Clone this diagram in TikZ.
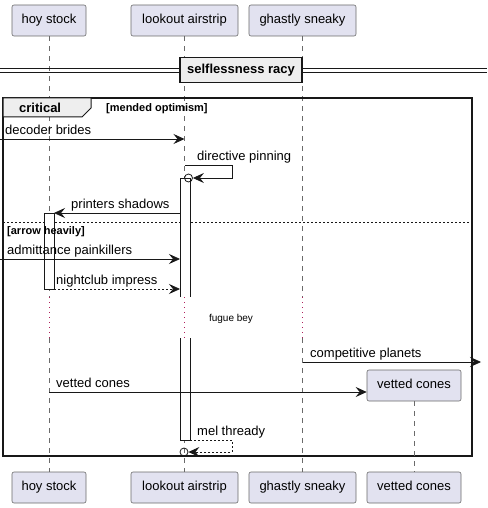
\documentclass[tikz,border=0pt]{standalone}
\usepackage{fontspec}
\setmainfont{Liberation Sans}
\usetikzlibrary{arrows.meta}

\definecolor{partfill}{HTML}{E2E2F0}
\definecolor{partline}{HTML}{6A6A6A}
\definecolor{boxfill}{HTML}{EEEEEE}
\definecolor{delayline}{HTML}{B0205A}
\definecolor{ink}{HTML}{181818}

\tikzset{
  part/.style={draw=partline, fill=partfill, rounded corners=2pt, minimum height=31pt,
    inner sep=0pt, text height=9.5pt, text depth=3pt, line width=0.6pt,
    font=\fontsize{13}{15}\selectfont},
  life/.style={draw=partline, line width=0.6pt, dash pattern=on 5pt off 5pt},
  lifedelay/.style={draw=delayline, line width=0.8pt, dash pattern=on 1pt off 4pt},
  msg/.style={draw=ink, line width=0.8pt, -{Stealth[length=11pt,width=10pt,inset=4pt]}},
  reply/.style={msg, dash pattern=on 2pt off 2pt},
  lbl/.style={font=\fontsize{13}{15}\selectfont, inner sep=0pt, anchor=base west},
  guard/.style={font=\bfseries\fontsize{11}{13}\selectfont, inner sep=0pt, anchor=base west},
  actbar/.style={draw=ink, fill=white, line width=0.8pt},
}

\begin{document}
\begin{tikzpicture}[x=1pt, y=-1pt]
  \useasboundingbox (0,0) rectangle (487,508);

  % participants, head and foot
  \node [part, minimum width=74pt] (hoy) at (49,20.5) {hoy stock};
  \node [part, minimum width=107pt] (look) at (184.5,20.5) {lookout airstrip};
  \node [part, minimum width=107pt] (ghast) at (302.5,20.5) {ghastly sneaky};
  \node [part, minimum width=74pt] (hoyB) at (49,487.5) {hoy stock};
  \node [part, minimum width=107pt] (lookB) at (184.5,487.5) {lookout airstrip};
  \node [part, minimum width=107pt] (ghastB) at (302.5,487.5) {ghastly sneaky};
  \node [part, minimum width=94pt] (vetB) at (414,487.5) {vetted cones};

  % lifelines with the delay gap
  \coordinate (dlyT) at (0,297);
  \coordinate (dlyB) at (0,338);
  \foreach \p in {hoy, look, ghast} {
    \draw [life] (\p.south) -- (\p.south |- dlyT);
    \draw [lifedelay] (\p.south |- dlyT) -- (\p.south |- dlyB);
    \draw [life] (\p.south |- dlyB) -- (\p B.north);
  }
  \node [font=\fontsize{10}{12}\selectfont] (fugue) at (231,319) {fugue bey};

  % divider
  \draw [draw=ink, line width=0.8pt] (0,68) -- (487,68);
  \draw [draw=ink, line width=0.8pt] (0,72) -- (487,72);
  \node [draw=ink, fill=boxfill, line width=1.5pt, minimum width=122pt, minimum height=25pt,
    inner sep=0pt, font=\bfseries\fontsize{13}{15}\selectfont] (divider) at (241,70) {selflessness racy};

  % critical group
  \draw [draw=ink, line width=1.5pt] (3,98) rectangle (472,456);
  \filldraw [draw=ink, fill=boxfill, line width=1pt] (3,98) -- (91,98) -- (91,108) -- (82,117) -- (3,117) -- cycle;
  \node [inner sep=0pt, anchor=base west, font=\bfseries\fontsize{13}{15}\selectfont] (crit) at (19,113) {critical};
  \node [guard] (mended) at (106,112) {[mended optimism]};
  \draw [draw=ink, line width=0.6pt, dash pattern=on 2pt off 2pt] (3,222) -- (472,222);

  % activation bars
  \filldraw [actbar] (180,297) -- (180,178) -- (190,178) -- (190,297);
  \filldraw [actbar] (180,338) -- (180,440) -- (190,440) -- (190,338);
  \filldraw [actbar] (44,213) rectangle (54,289);
  \node [guard] (heavily) at (7,234) {[arrow heavily]};

  % messages
  \coordinate (in1) at (0,139);
  \draw [msg] (in1) -- (look |- in1);
  \node [lbl] (m1) at (5,134) {decoder brides};

  \coordinate (s1a) at (185,165);
  \coordinate (s1b) at (232,165);
  \coordinate (s1c) at (232,178);
  \node [draw=ink, circle, line width=0.8pt, minimum size=8pt, inner sep=0pt] (o1) at (188.5,178) {};
  \draw [msg] (s1a) -- (s1b) -- (s1c) -- (o1.east);
  \node [lbl] (m2) at (197,160) {directive pinning};

  \coordinate (a1) at (180,213);
  \coordinate (a2) at (54,213);
  \draw [msg] (a1) -- (a2);
  \node [lbl] (m3) at (71,208) {printers shadows};

  \coordinate (in2) at (0,259);
  \coordinate (a3) at (180,259);
  \draw [msg] (in2) -- (a3);
  \node [lbl] (m4) at (7,254) {admittance painkillers};

  \coordinate (a4) at (54,289);
  \coordinate (a5) at (180,289);
  \draw [reply] (a4) -- (a5);
  \node [lbl] (m5) at (56,284) {nightclub impress};

  \coordinate (out1) at (481,362);
  \draw [msg] (ghast |- out1) -- (out1);
  \node [lbl] (m6) at (310,357) {competitive planets};

  \node [part, minimum width=94pt] (vet) at (414,385.5) {vetted cones};
  \draw [life] (vet.south) -- (vetB.north);
  \draw [msg] (hoy |- vet.west) ++(0,6.5) coordinate (a6) -- (vet.west |- a6);
  \node [lbl] (m7) at (56,387) {vetted cones};

  \coordinate (s2a) at (190,440);
  \coordinate (s2b) at (232,440);
  \coordinate (s2c) at (232,452);
  \node [draw=ink, circle, line width=0.8pt, minimum size=8pt, inner sep=0pt] (o2) at (184,452) {};
  \draw [reply] (s2a) -- (s2b) -- (s2c) -- (o2.east);
  \node [lbl] (m8) at (197,435) {mel thready};
\end{tikzpicture}
\end{document}
